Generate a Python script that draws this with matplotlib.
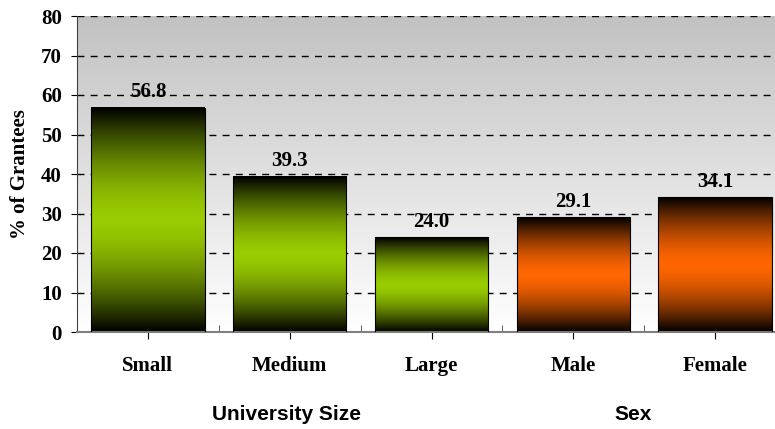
import numpy as np
import matplotlib
matplotlib.use('Agg')
import matplotlib.pyplot as plt
from matplotlib.colors import to_rgb

categories = ['Small', 'Medium', 'Large', 'Male', 'Female']
values = [56.8, 39.3, 24.0, 29.1, 34.1]
bar_colors = ['#99CC00', '#99CC00', '#99CC00', '#FF6600', '#FF6600']
groups = ['University Size', 'Sex']
yticks = [0, 10, 20, 30, 40, 50, 60, 70, 80]

serif = ['Liberation Serif', 'DejaVu Serif']
sans = ['Liberation Sans', 'DejaVu Sans']
fs = 15

fig = plt.figure(figsize=(7.75, 4.29), dpi=100)
# plot area runs a bit past the right edge of the picture, like the original
ax = fig.add_axes([77 / 775, 1 - 332 / 429, 709 / 775, 316 / 429])

# background: white at the bottom to grey at the top
bg = np.linspace(1.0, 0.76, 256).reshape(-1, 1)
bg = np.dstack([bg, bg, bg])
ax.imshow(bg, extent=[-0.5, len(categories) - 0.5, 0, 80], origin='lower',
          aspect='auto', zorder=0, interpolation='bilinear')

ax.set_yticks(yticks)
ax.yaxis.grid(True, color='black', linestyle=(0, (5, 4.5)), linewidth=1, zorder=1)
ax.set_axisbelow(True)

x = np.arange(len(categories))
bars = ax.bar(x, values, width=0.8, facecolor='none', edgecolor='black',
              linewidth=0.8, zorder=3)

# vertical shading on each bar: dark at the ends, full colour in the middle
t = np.linspace(0, 1, 200)
shade = 1 - np.abs(2 * t - 1) ** 1.6
for b, c in zip(bars, bar_colors):
    rgb = np.array(to_rgb(c))
    img = shade[:, None, None] * rgb[None, None, :]
    ax.imshow(img, extent=[b.get_x(), b.get_x() + b.get_width(), 0, b.get_height()],
              origin='lower', aspect='auto', zorder=2, interpolation='bilinear')
    ax.text(b.get_x() + b.get_width() / 2, b.get_height() + 2.6, f'{b.get_height():.1f}',
            ha='center', va='baseline', fontsize=fs, fontweight='bold', family=serif)

ax.set_xlim(-0.5, len(categories) - 0.5)
ax.set_ylim(0, 80)

ax.set_xticks(x)
ax.set_xticklabels(categories, fontsize=fs, fontweight='bold', family=serif)
ax.set_xticks(np.arange(len(categories)) - 0.5, minor=True)
ax.tick_params(axis='x', which='major', direction='out', length=5, pad=12, color='black')
ax.tick_params(axis='x', which='minor', direction='in', length=5, color='#404040')
ax.tick_params(axis='y', direction='out', length=4.5, pad=6.5)
for lab in ax.get_yticklabels():
    lab.set_fontsize(fs)
    lab.set_fontweight('bold')
    lab.set_family(serif)

ax.spines['top'].set_visible(False)
ax.spines['right'].set_visible(False)
ax.spines['left'].set_color('#404040')
ax.spines['bottom'].set_color('#808080')
ax.spines['bottom'].set_linewidth(1.5)

fig.text(20 / 775, 1 - 174 / 429, '% of Grantees', rotation=90, ha='center', va='center',
         fontsize=fs, fontweight='bold', family=serif)

fig.text(287 / 775, 1 - 414 / 429, groups[0], ha='center', va='center',
         fontsize=fs, fontweight='bold', family=sans)
fig.text(633 / 775, 1 - 414 / 429, groups[1], ha='center', va='center',
         fontsize=fs, fontweight='bold', family=sans)

fig.savefig('out.png', dpi=100)
